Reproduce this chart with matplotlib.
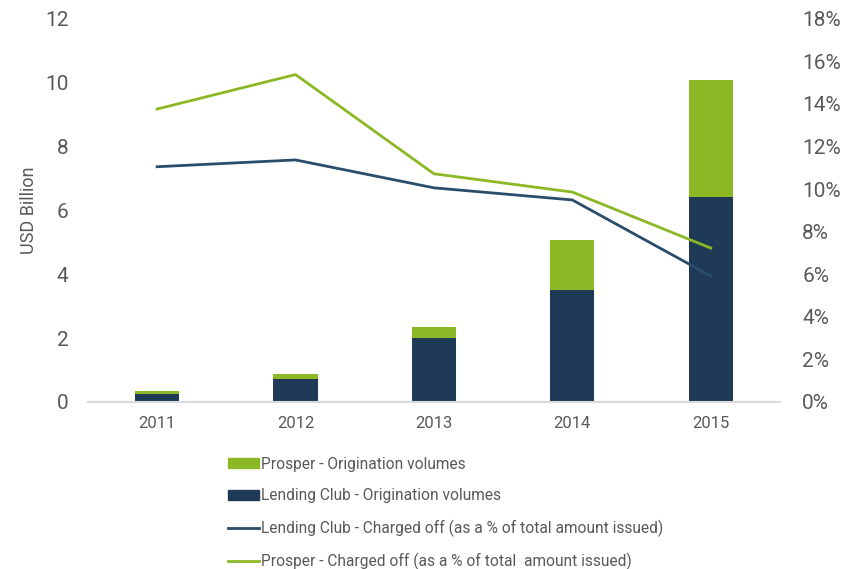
import matplotlib
matplotlib.use("Agg")
import matplotlib.pyplot as plt
from matplotlib.patches import Patch
from matplotlib.lines import Line2D

plt.rcParams['font.family'] = ['Roboto', 'DejaVu Sans']

years = ['2011', '2012', '2013', '2014', '2015']
lc_volume = [0.26, 0.71, 2.01, 3.51, 6.41]
prosper_volume = [0.09, 0.17, 0.33, 1.57, 3.66]
lc_chargeoff = [11.05, 11.37, 10.06, 9.49, 5.92]
prosper_chargeoff = [13.76, 15.38, 10.72, 9.86, 7.23]

navy = '#1f3a56'
green = '#8cb826'
line_blue = '#2b4d6c'
grey = '#595959'

fig = plt.figure(figsize=(8.45, 5.69), dpi=100)
ax = fig.add_axes([0.104, 0.2935, 0.819, 0.6735])
ax2 = ax.twinx()

x = range(len(years))
ax.bar(x, lc_volume, width=0.32, color=navy, zorder=2)
ax.bar(x, prosper_volume, width=0.32, bottom=lc_volume, color=green, zorder=2)

ax2.plot(x, lc_chargeoff, color=line_blue, lw=2)
ax2.plot(x, prosper_chargeoff, color=green, lw=2)

ax.set_xlim(-0.5, 4.5)
ax.set_ylim(0, 12)
ax2.set_ylim(0, 18)
ax.set_xticks(list(x))
ax.set_xticklabels(years)
ax.set_yticks(range(0, 13, 2))
ax2.set_yticks(range(0, 19, 2))
ax2.set_yticklabels([f'{v}%' for v in range(0, 19, 2)])

for a in (ax, ax2):
    for s in ['top', 'left', 'right', 'bottom']:
        a.spines[s].set_visible(False)
    a.tick_params(length=0, colors=grey, labelsize=15)
ax.spines['bottom'].set_visible(True)
ax.spines['bottom'].set_color('#d9d9d9')
ax.spines['bottom'].set_linewidth(1.5)
ax.tick_params(axis='x', labelsize=12, pad=10)
ax.tick_params(axis='y', pad=20)
ax2.tick_params(axis='y', pad=16)
ax.set_ylabel('USD Billion', color=grey, fontsize=13, labelpad=10)
ax.yaxis.set_label_coords(-0.072, 0.5)
for lbl in ax.get_yticklabels():
    lbl.set_x(0.012)

handles = [
    Patch(color=green, label='Prosper - Origination volumes'),
    Patch(color=navy, label='Lending Club - Origination volumes'),
    Line2D([], [], color=line_blue, lw=2, label='Lending Club - Charged off (as a % of total amount issued)'),
    Line2D([], [], color=green, lw=2, label='Prosper - Charged off (as a % of total  amount issued)'),
]
leg = fig.legend(handles=handles, loc='upper left', bbox_to_anchor=(0.262, 0.208),
                 frameon=False, fontsize=11.2, handlelength=2.0, handleheight=0.6,
                 handletextpad=0.15, labelspacing=1.05, borderaxespad=0)
for t in leg.get_texts():
    t.set_color(grey)

fig.savefig('out.png', dpi=100)
